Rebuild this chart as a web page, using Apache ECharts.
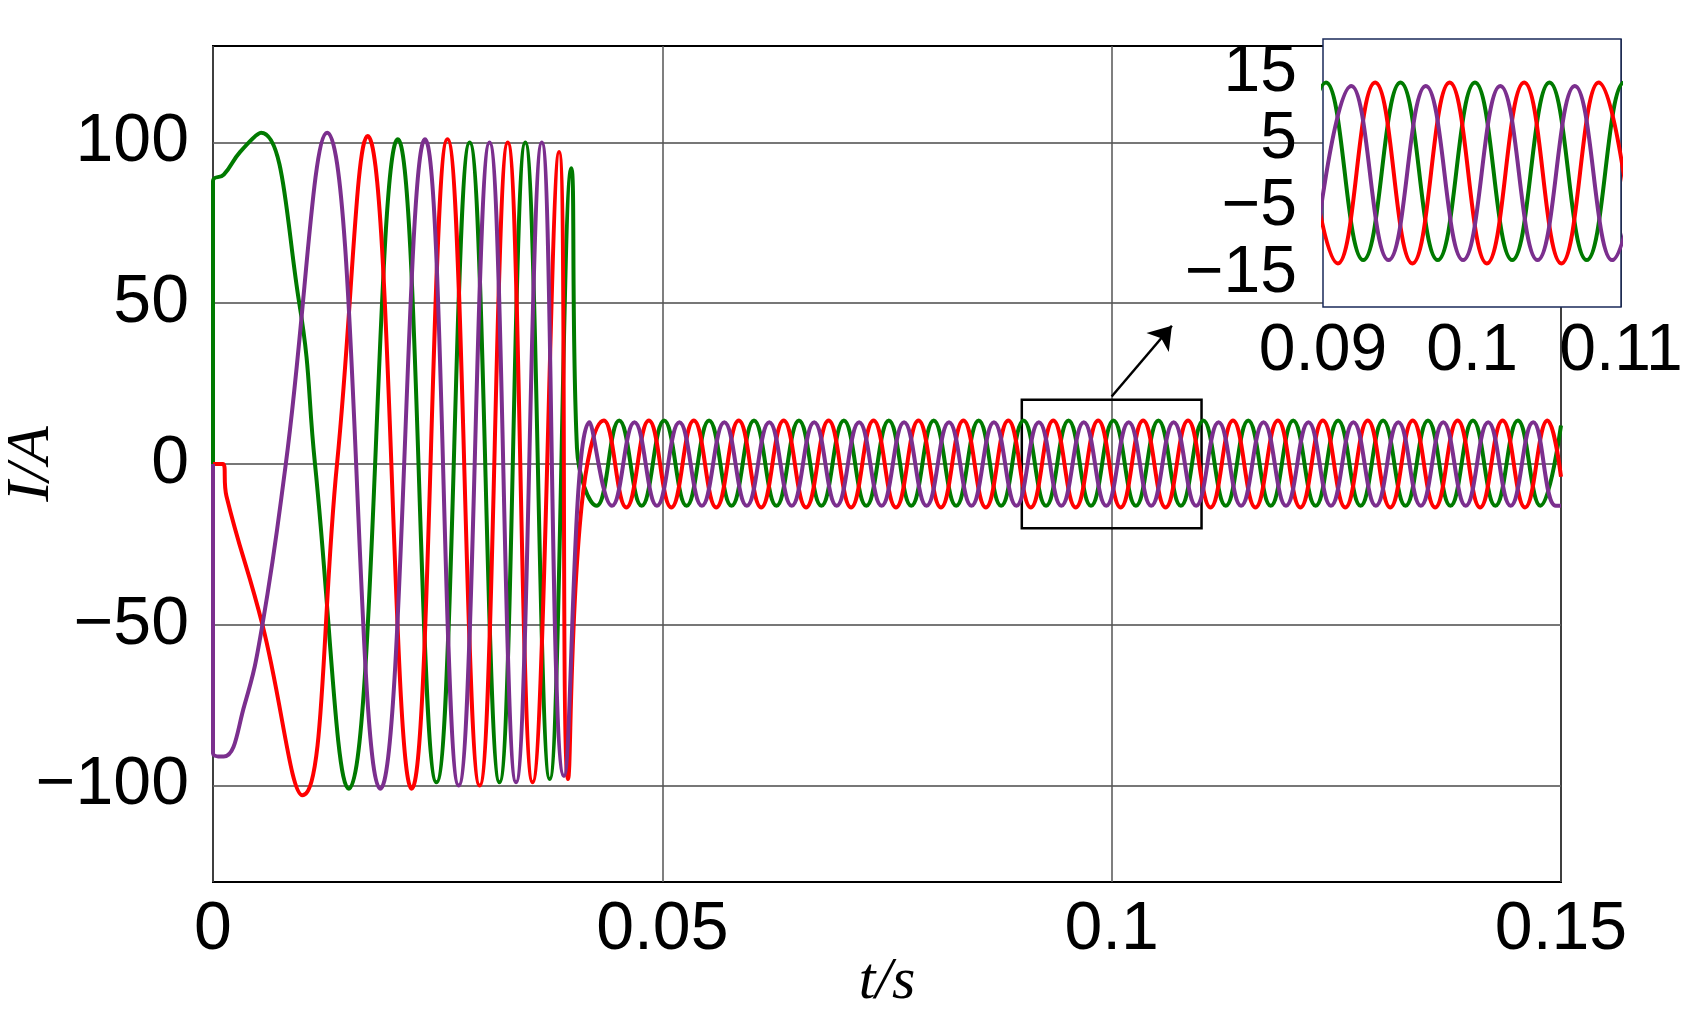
<!DOCTYPE html>
<html>
<head>
<meta charset="utf-8">
<script src="https://cdn.jsdelivr.net/npm/echarts@6/dist/echarts.min.js"></script>
<style>
  html, body { margin: 0; padding: 0; background: #fff; }
  #chart { width: 1706px; height: 1019px; }
</style>
</head>
<body>
<div id="chart"></div>
<script>
// 读图得到的波形极值点 (t/s, I/A)
// 0~0.04s 起动过程
const green_start = [[0, 0], [0, 88], [0.0012, 90], [0.0030, 97], [0.00535, 103], [0.0096, 50], [0.01135, 0],
  [0.01511, -101], [0.02056, 101], [0.02487, -99], [0.02856, 100], [0.03188, -99], [0.03475, 100],
  [0.03747, -98], [0.03987, 92], [0.0405, 5]]
const purple_start = [[0, 0], [0, -90], [0.0012, -91], [0.0035, -75], [0.0055, -50], [0.0081, 0],
  [0.01271, 103], [0.01861, -101], [0.02359, 101], [0.02734, -100], [0.03077, 100], [0.03372, -99],
  [0.03659, 100], [0.03906, -97]]
const red_start = [[0, 0], [0.0011, 0], [0.0015, -10], [0.0055, -50], [0.00995, -103], [0.0138, 0],
  [0.01721, 102], [0.02211, -101], [0.02609, 101], [0.02967, -100], [0.03280, 100], [0.03556, -99],
  [0.03851, 97], [0.0395, -98]]

// 0.04s 以后稳态 (约 200Hz)
const green_peaks = [0.0452, 0.0502, 0.0552, 0.0602, 0.0652, 0.0702, 0.0752, 0.0802, 0.0852, 0.0902, 0.0952,
  0.1002, 0.1052, 0.1102, 0.1152, 0.1202, 0.1252, 0.1302, 0.1352, 0.1402, 0.1452]
const green_troughs = [0.0427, 0.0477, 0.0527, 0.0577, 0.0627, 0.0677, 0.0727, 0.0777, 0.0827, 0.0877, 0.0927,
  0.0977, 0.1027, 0.1077, 0.1127, 0.1177, 0.1227, 0.1277, 0.1327, 0.1377, 0.1427, 0.1477]
const purple_peaks = [0.0419, 0.0469, 0.0519, 0.0569, 0.0619, 0.0669, 0.0719, 0.0769, 0.0819, 0.0869, 0.0919,
  0.0969, 0.1019, 0.1069, 0.1119, 0.1169, 0.1219, 0.1269, 0.1319, 0.1369, 0.1419, 0.1469]
const purple_troughs = [0.0444, 0.0494, 0.0544, 0.0594, 0.0644, 0.0694, 0.0744, 0.0794, 0.0844, 0.0894, 0.0944,
  0.0994, 0.1044, 0.1094, 0.1144, 0.1194, 0.1244, 0.1294, 0.1344, 0.1394, 0.1444, 0.1494]
const red_peaks = [0.0435, 0.0485, 0.0535, 0.0585, 0.0635, 0.0685, 0.0735, 0.0785, 0.0835, 0.0885, 0.0935,
  0.0985, 0.1035, 0.1085, 0.1135, 0.1185, 0.1235, 0.1285, 0.1335, 0.1385, 0.1435, 0.1485]
const red_troughs = [0.0410, 0.0460, 0.0510, 0.0560, 0.0610, 0.0660, 0.0710, 0.0760, 0.0810, 0.0860, 0.0910,
  0.0960, 0.1010, 0.1060, 0.1110, 0.1160, 0.1210, 0.1260, 0.1310, 0.1360, 0.1410, 0.1460]

const green_amp = [13.5, -13]
const purple_amp = [13, -13]
const red_amp = [13.5, -13.5]
const end_values = { green: 12, purple: -13, red: -4 }

const x_ticks_main = [0, 0.05, 0.1, 0.15]
const y_ticks_main = [-100, -50, 0, 50, 100]
const y_ticks_inset = [-15, -5, 5, 15]
const x_ticks_inset = [0.09, 0.1, 0.11]

function buildSeries(start, peaks, troughs, amp, end) {
  let pts = []
  peaks.forEach(t => pts.push([t, amp[0]]))
  troughs.forEach(t => pts.push([t, amp[1]]))
  pts.sort((a, b) => a[0] - b[0])
  return start.concat(pts).concat([[0.15, end]])
}

const green_data = buildSeries(green_start, green_peaks, green_troughs, green_amp, end_values.green)
const purple_data = buildSeries(purple_start, purple_peaks, purple_troughs, purple_amp, end_values.purple)
const red_data = buildSeries(red_start, red_peaks, red_troughs, red_amp, end_values.red)

function clip(data, a, b) {
  return data.filter(p => p[0] >= a - 0.003 && p[0] <= b + 0.003)
}

const colors = { green: '#007a00', purple: '#7b2f8e', red: '#ff0000' }
const fmt = v => (v < 0 ? '\u2212' + Math.abs(v) : String(v))
const font = 'Liberation Sans'

let chart = echarts.init(document.getElementById('chart'))

function line(name, data, color, idx, extra) {
  return Object.assign({
    name: name,
    type: 'line',
    xAxisIndex: idx,
    yAxisIndex: idx,
    data: data,
    smooth: 0.45,
    showSymbol: false,
    animation: false,
    lineStyle: { color: color, width: 4 },
    clip: true
  }, extra || {})
}

let option = {
  backgroundColor: '#fff',
  grid: [
    { left: 213, right: 145, top: 46, bottom: 137, show: true, borderColor: '#000', borderWidth: 2,
      outerBoundsMode: 'none', containLabel: false },
    { left: 1323, top: 39, width: 298, height: 268, show: true, borderColor: '#1a2a5a', borderWidth: 1.5,
      backgroundColor: '#fff', z: 10, outerBoundsMode: 'none', containLabel: false }
  ],
  xAxis: [
    {
      type: 'value', min: 0, max: 0.15, interval: 0.05, gridIndex: 0,
      axisLine: { show: false }, axisTick: { show: false },
      axisLabel: { fontSize: 68, fontFamily: font, color: '#000', margin: 14,
        formatter: v => x_ticks_main.some(t => Math.abs(t - v) < 1e-9) ? String(+v.toFixed(2)) : '' },
      splitLine: { show: true, lineStyle: { color: '#555', width: 1.5 } },
      name: 't/s', nameLocation: 'middle', nameGap: 70, nameMoveOverlap: false,
      nameTextStyle: { fontSize: 60, fontFamily: 'Liberation Serif', fontStyle: 'italic', color: '#000' }
    },
    {
      type: 'value', min: 0.09, max: 0.11, interval: 0.005, gridIndex: 1,
      axisLine: { show: false }, axisTick: { show: false },
      axisLabel: { fontSize: 66, fontFamily: font, color: '#000', margin: 12,
        formatter: v => x_ticks_inset.some(t => Math.abs(t - v) < 1e-9) ? String(+v.toFixed(2)) : '' },
      splitLine: { show: true, lineStyle: { color: '#333', width: 1 } }
    }
  ],
  yAxis: [
    {
      type: 'value', min: -130, max: 130, interval: 10, gridIndex: 0,
      axisLine: { show: false }, axisTick: { show: false },
      axisLabel: { fontSize: 68, fontFamily: font, color: '#000', margin: 24,
        formatter: v => y_ticks_main.indexOf(Math.round(v)) >= 0 ? fmt(Math.round(v)) : '' },
      splitLine: { show: true, lineStyle: { color: ['none', 'none', 'none', '#777', 'none'], width: 2 } },
      name: 'I/A', nameLocation: 'middle', nameGap: 150, nameRotate: 90, nameMoveOverlap: false,
      nameTextStyle: { fontSize: 62, fontFamily: 'Liberation Serif', fontStyle: 'italic', color: '#000' }
    },
    {
      type: 'value', min: -20, max: 20, interval: 5, gridIndex: 1,
      axisLine: { show: false }, axisTick: { show: false },
      axisLabel: { fontSize: 66, fontFamily: font, color: '#000', margin: 26,
        formatter: v => y_ticks_inset.indexOf(Math.round(v)) >= 0 ? fmt(Math.round(v)) : '' },
      splitLine: { show: true, lineStyle: { color: ['none', '#444'], width: 1.5 } }
    }
  ],
  series: [
    line('green', green_data, colors.green, 0),
    line('red', red_data, colors.red, 0),
    line('purple', purple_data, colors.purple, 0, {
      markArea: {
        silent: true,
        itemStyle: { color: 'rgba(0,0,0,0)', borderColor: '#000', borderWidth: 2.5 },
        data: [[{ coord: [0.09, 20] }, { coord: [0.11, -20] }]]
      },
      markLine: {
        silent: true,
        symbol: ['none', 'arrow'],
        symbolSize: 22,
        label: { show: false },
        lineStyle: { color: '#000', width: 2.5, type: 'solid' },
        data: [[{ coord: [0.1, 21] }, { coord: [0.1067, 43] }]]
      }
    }),
    line('green', clip(green_data, 0.09, 0.11), colors.green, 1, { z: 12 }),
    line('red', clip(red_data, 0.09, 0.11), colors.red, 1, { z: 12 }),
    line('purple', clip(purple_data, 0.09, 0.11), colors.purple, 1, { z: 12 })
  ]
}

chart.setOption(option)
</script>
</body>
</html>
